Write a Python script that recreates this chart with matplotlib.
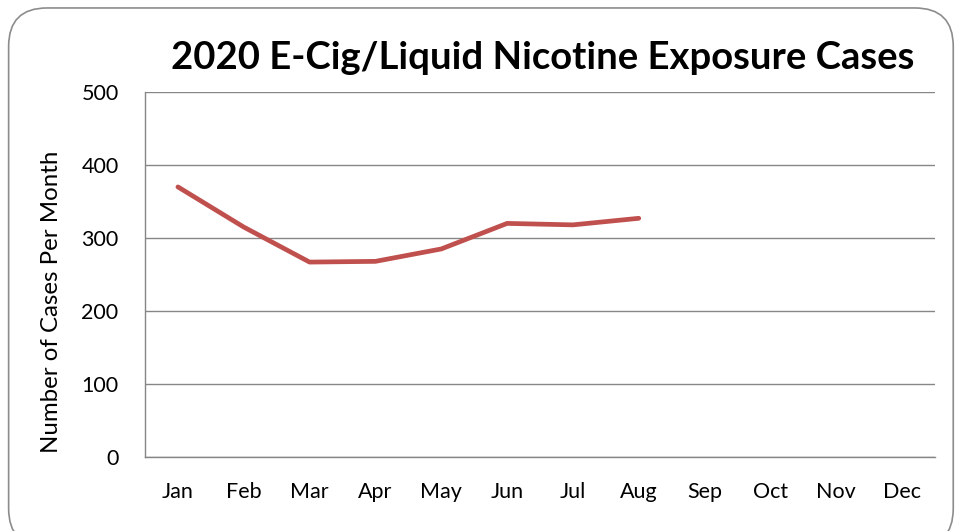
import matplotlib.pyplot as plt
from matplotlib.patches import FancyBboxPatch

# datos
meses = ['Jan', 'Feb', 'Mar', 'Apr', 'May', 'Jun', 'Jul', 'Aug', 'Sep', 'Oct', 'Nov', 'Dec']
casos = [370, 315, 267, 268, 285, 320, 318, 327]
y_ticks = [0, 100, 200, 300, 400, 500]

plt.rcParams['font.family'] = ['Lato', 'DejaVu Sans']

fig = plt.figure(figsize=(9.59, 5.31), dpi=100)

# borde redondeado
borde = FancyBboxPatch((0.009, -0.03), 0.985, 1.015,
                       boxstyle='round,pad=0,rounding_size=0.04',
                       transform=fig.transFigure, facecolor='none',
                       edgecolor='#8c8c8c', linewidth=1.2, mutation_aspect=959/531,
                       zorder=5)
fig.patches.append(borde)

ax = fig.add_axes([0.1512, 0.1394, 0.8238, 0.6873])
x = list(range(len(meses)))
ax.plot(x[:len(casos)], casos, color='#C0504D', linewidth=3.4, solid_capstyle='round')

ax.set_xlim(-0.5, len(meses) - 0.5)
ax.set_ylim(0, 500)
ax.set_yticks(y_ticks)
ax.set_xticks(x)
ax.set_xticklabels(meses)
ax.grid(axis='y', color='#868686', linewidth=1)
ax.set_axisbelow(True)
for s in ['top', 'right']:
    ax.spines[s].set_visible(False)
for s in ['left', 'bottom']:
    ax.spines[s].set_color('#868686')
    ax.spines[s].set_linewidth(1)
ax.tick_params(length=0, labelsize=15.5)
ax.tick_params(axis='y', pad=19)
ax.tick_params(axis='x', pad=18)

# etiqueta del eje y (un poco mas abajo que el centro, como el original)
fig.text(0.054, 0.431, 'Number of Cases Per Month', rotation=90,
         ha='center', va='center', fontsize=17.3)

fig.text(0.566, 0.89, '2020 E-Cig/Liquid Nicotine Exposure Cases',
         ha='center', va='center', fontsize=27.5, fontweight='bold')

fig.savefig('out.png', dpi=100)
